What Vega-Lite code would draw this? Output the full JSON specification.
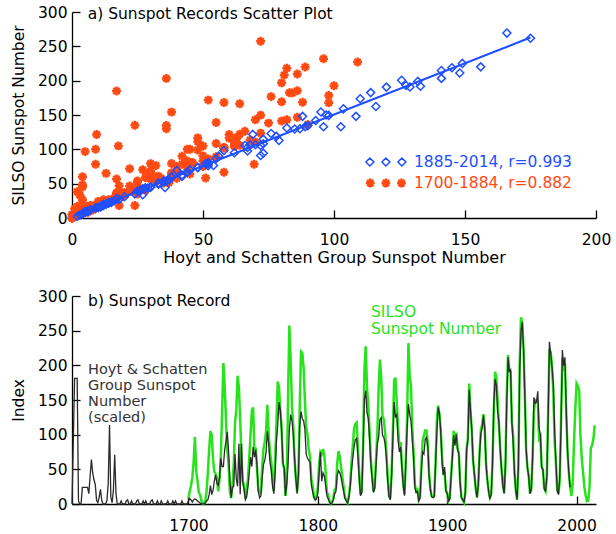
{
"$schema": "https://vega.github.io/schema/vega-lite/v6.json",
"padding": {"left": 11, "top": 5, "right": 4, "bottom": 4},
"bounds": "flush",
"spacing": 78,
"config": {
  "view": {"stroke": null},
  "font": "DejaVu Sans",
  "axis": {"domainColor": "black", "domainWidth": 1.3, "tickColor": "black", "tickWidth": 1.3, "labelFont": "DejaVu Sans", "labelFontSize": 15.5, "labelColor": "black", "titleFont": "DejaVu Sans", "titleFontSize": 15.5, "titleFontWeight": "normal", "titleColor": "black", "grid": false, "labelOverlap": false, "labelFlush": false, "ticks": true}
},
"datasets": {"ss": [
{"year":1610,"hs":0},{"year":1611,"hs":60},{"year":1612,"hs":120.7},{"year":1613,"hs":120.7},{"year":1614,"hs":120.7},{"year":1615,"hs":3},{"year":1616,"hs":0},{"year":1617,"hs":0},{"year":1618,"hs":16},{"year":1619,"hs":16},
{"year":1620,"hs":16},{"year":1621,"hs":16},{"year":1622,"hs":16},{"year":1623,"hs":10},{"year":1624,"hs":26.7},{"year":1625,"hs":42.7},{"year":1626,"hs":30},{"year":1627,"hs":23.3},{"year":1628,"hs":18.7},{"year":1629,"hs":3.3},
{"year":1630,"hs":1.3},{"year":1631,"hs":6.7},{"year":1632,"hs":14},{"year":1633,"hs":3.3},{"year":1634,"hs":0},{"year":1635,"hs":0},{"year":1636,"hs":0},{"year":1637,"hs":3.3},{"year":1638,"hs":20},{"year":1639,"hs":76},
{"year":1640,"hs":6.7},{"year":1641,"hs":1.3},{"year":1642,"hs":13.3},{"year":1643,"hs":47.3},{"year":1644,"hs":10},{"year":1645,"hs":0},{"year":1646,"hs":0},{"year":1647,"hs":0},{"year":1648,"hs":3},{"year":1649,"hs":0},
{"year":1650,"hs":0},{"year":1651,"hs":0},{"year":1652,"hs":3},{"year":1653,"hs":4},{"year":1654,"hs":0},{"year":1655,"hs":0},{"year":1656,"hs":3},{"year":1657,"hs":0},{"year":1658,"hs":0},{"year":1659,"hs":0},
{"year":1660,"hs":3},{"year":1661,"hs":4},{"year":1662,"hs":0},{"year":1663,"hs":0},{"year":1664,"hs":0},{"year":1665,"hs":3},{"year":1666,"hs":0},{"year":1667,"hs":3},{"year":1668,"hs":0},{"year":1669,"hs":0},
{"year":1670,"hs":0},{"year":1671,"hs":3},{"year":1672,"hs":4},{"year":1673,"hs":0},{"year":1674,"hs":0},{"year":1675,"hs":0},{"year":1676,"hs":3},{"year":1677,"hs":0},{"year":1678,"hs":0},{"year":1679,"hs":3},
{"year":1680,"hs":0},{"year":1681,"hs":0},{"year":1682,"hs":0},{"year":1683,"hs":0},{"year":1684,"hs":3},{"year":1685,"hs":0},{"year":1686,"hs":0},{"year":1687,"hs":0},{"year":1688,"hs":3},{"year":1689,"hs":0},
{"year":1690,"hs":3},{"year":1691,"hs":0},{"year":1692,"hs":0},{"year":1693,"hs":0},{"year":1694,"hs":0},{"year":1695,"hs":3},{"year":1696,"hs":0},{"year":1697,"hs":0},{"year":1698,"hs":0},{"year":1699,"hs":0},
{"year":1700,"silso":8.3,"hs":3},{"year":1701,"silso":18.3,"hs":5},{"year":1702,"silso":26.7,"hs":4},{"year":1703,"silso":38.3,"hs":2},{"year":1704,"silso":60.0,"hs":4},{"year":1705,"silso":96.7,"hs":5},{"year":1706,"silso":48.3,"hs":4},{"year":1707,"silso":33.3,"hs":3},{"year":1708,"silso":16.7,"hs":2},{"year":1709,"silso":13.3,"hs":1},
{"year":1710,"silso":5.0,"hs":0},{"year":1711,"silso":0.0,"hs":0},{"year":1712,"silso":0.0,"hs":0},{"year":1713,"silso":3.3,"hs":1},{"year":1714,"silso":18.3,"hs":3},{"year":1715,"silso":45.0,"hs":4},{"year":1716,"silso":78.3,"hs":9},{"year":1717,"silso":105.0,"hs":17.7},{"year":1718,"silso":100.0,"hs":9},{"year":1719,"silso":65.0,"hs":13},
{"year":1720,"silso":46.7,"hs":22},{"year":1721,"silso":43.3,"hs":28},{"year":1722,"silso":36.7,"hs":20},{"year":1723,"silso":18.3,"hs":18},{"year":1724,"silso":35.0,"hs":25},{"year":1725,"silso":66.7,"hs":44},{"year":1726,"silso":130.0,"hs":36},{"year":1727,"silso":203.3,"hs":36},{"year":1728,"silso":171.7,"hs":52},{"year":1729,"silso":121.7,"hs":60},
{"year":1730,"silso":78.3,"hs":69.5},{"year":1731,"silso":58.3,"hs":51},{"year":1732,"silso":18.3,"hs":24},{"year":1733,"silso":8.3,"hs":6},{"year":1734,"silso":26.7,"hs":16},{"year":1735,"silso":56.7,"hs":17},{"year":1736,"silso":116.7,"hs":48},{"year":1737,"silso":135.0,"hs":24},{"year":1738,"silso":185.0,"hs":17},{"year":1739,"silso":168.3,"hs":58},
{"year":1740,"silso":121.7,"hs":9.4},{"year":1741,"silso":66.7,"hs":58},{"year":1742,"silso":33.3,"hs":20},{"year":1743,"silso":26.7,"hs":14},{"year":1744,"silso":8.3,"hs":4},{"year":1745,"silso":18.3,"hs":7},{"year":1746,"silso":36.7,"hs":17},{"year":1747,"silso":66.7,"hs":30},{"year":1748,"silso":100.0,"hs":45},{"year":1749,"silso":134.8,"hs":36},
{"year":1750,"silso":139.0,"hs":55},{"year":1751,"silso":79.5,"hs":45},{"year":1752,"silso":79.7,"hs":52},{"year":1753,"silso":51.2,"hs":37},{"year":1754,"silso":20.3,"hs":12},{"year":1755,"silso":16.0,"hs":6},{"year":1756,"silso":17.0,"hs":8},{"year":1757,"silso":54.0,"hs":25},{"year":1758,"silso":79.3,"hs":38},{"year":1759,"silso":90.0,"hs":42},
{"year":1760,"silso":104.8,"hs":50},{"year":1761,"silso":143.2,"hs":70},{"year":1762,"silso":102.0,"hs":58},{"year":1763,"silso":75.2,"hs":40},{"year":1764,"silso":60.7,"hs":33},{"year":1765,"silso":34.8,"hs":17},{"year":1766,"silso":19.0,"hs":10},{"year":1767,"silso":63.0,"hs":30},{"year":1768,"silso":116.3,"hs":60},{"year":1769,"silso":176.8,"hs":76},
{"year":1770,"silso":168.0,"hs":98},{"year":1771,"silso":136.0,"hs":90},{"year":1772,"silso":110.8,"hs":70},{"year":1773,"silso":58.0,"hs":40},{"year":1774,"silso":51.0,"hs":35},{"year":1775,"silso":11.7,"hs":8},{"year":1776,"silso":33.0,"hs":20},{"year":1777,"silso":154.2,"hs":38},{"year":1778,"silso":257.3,"hs":72},{"year":1779,"silso":209.8,"hs":86},
{"year":1780,"silso":141.3,"hs":80},{"year":1781,"silso":113.5,"hs":68},{"year":1782,"silso":64.2,"hs":45},{"year":1783,"silso":38.0,"hs":25},{"year":1784,"silso":17.0,"hs":10},{"year":1785,"silso":40.2,"hs":28},{"year":1786,"silso":138.2,"hs":75},{"year":1787,"silso":220.0,"hs":89},{"year":1788,"silso":218.2,"hs":82},{"year":1789,"silso":196.8,"hs":80},
{"year":1790,"silso":149.8,"hs":72},{"year":1791,"silso":111.0,"hs":48},{"year":1792,"silso":100.0,"hs":44},{"year":1793,"silso":78.2,"hs":42},{"year":1794,"silso":68.3,"hs":40},{"year":1795,"silso":35.5,"hs":18},{"year":1796,"silso":26.7,"hs":12},{"year":1797,"silso":10.7,"hs":6},{"year":1798,"silso":6.8,"hs":4},{"year":1799,"silso":11.3,"hs":5},
{"year":1800,"silso":24.2,"hs":10},{"year":1801,"silso":56.7,"hs":30},{"year":1802,"silso":75.0,"hs":50},{"year":1803,"silso":71.8,"hs":22},{"year":1804,"silso":79.2,"hs":30},{"year":1805,"silso":70.3,"hs":27},{"year":1806,"silso":46.8,"hs":18},{"year":1807,"silso":16.8,"hs":8},{"year":1808,"silso":13.5,"hs":5},{"year":1809,"silso":4.2,"hs":2},
{"year":1810,"silso":0.0,"hs":0},{"year":1811,"silso":2.3,"hs":1},{"year":1812,"silso":8.3,"hs":4},{"year":1813,"silso":20.3,"hs":10},{"year":1814,"silso":23.2,"hs":12},{"year":1815,"silso":59.0,"hs":28},{"year":1816,"silso":76.3,"hs":32},{"year":1817,"silso":68.3,"hs":30},{"year":1818,"silso":52.9,"hs":25},{"year":1819,"silso":38.5,"hs":18},
{"year":1820,"silso":24.2,"hs":12},{"year":1821,"silso":9.2,"hs":5},{"year":1822,"silso":6.3,"hs":3},{"year":1823,"silso":2.2,"hs":1},{"year":1824,"silso":11.4,"hs":6},{"year":1825,"silso":28.2,"hs":16},{"year":1826,"silso":59.9,"hs":32},{"year":1827,"silso":83.0,"hs":44},{"year":1828,"silso":108.5,"hs":55},{"year":1829,"silso":115.2,"hs":62},
{"year":1830,"silso":117.4,"hs":63},{"year":1831,"silso":80.8,"hs":46},{"year":1832,"silso":44.3,"hs":24},{"year":1833,"silso":13.4,"hs":8},{"year":1834,"silso":19.5,"hs":11},{"year":1835,"silso":85.8,"hs":52},{"year":1836,"silso":192.7,"hs":100},{"year":1837,"silso":227.3,"hs":109},{"year":1838,"silso":168.7,"hs":88},{"year":1839,"silso":143.0,"hs":82},
{"year":1840,"silso":105.5,"hs":62},{"year":1841,"silso":63.3,"hs":38},{"year":1842,"silso":40.3,"hs":24},{"year":1843,"silso":18.1,"hs":11},{"year":1844,"silso":25.1,"hs":15},{"year":1845,"silso":65.8,"hs":38},{"year":1846,"silso":102.7,"hs":58},{"year":1847,"silso":166.3,"hs":64},{"year":1848,"silso":208.3,"hs":81},{"year":1849,"silso":182.5,"hs":83},
{"year":1850,"silso":126.3,"hs":66},{"year":1851,"silso":122.0,"hs":64},{"year":1852,"silso":102.7,"hs":58},{"year":1853,"silso":74.1,"hs":44},{"year":1854,"silso":39.0,"hs":22},{"year":1855,"silso":12.7,"hs":7},{"year":1856,"silso":8.2,"hs":4},{"year":1857,"silso":43.4,"hs":26},{"year":1858,"silso":104.4,"hs":62},{"year":1859,"silso":178.3,"hs":98},
{"year":1860,"silso":182.2,"hs":84},{"year":1861,"silso":146.6,"hs":86},{"year":1862,"silso":112.1,"hs":62},{"year":1863,"silso":83.5,"hs":50},{"year":1864,"silso":89.2,"hs":55},{"year":1865,"silso":57.8,"hs":34},{"year":1866,"silso":30.7,"hs":18},{"year":1867,"silso":13.9,"hs":8},{"year":1868,"silso":62.8,"hs":38},{"year":1869,"silso":123.6,"hs":72},
{"year":1870,"silso":232.0,"hs":96},{"year":1871,"silso":185.3,"hs":86},{"year":1872,"silso":169.2,"hs":80},{"year":1873,"silso":110.1,"hs":62},{"year":1874,"silso":74.5,"hs":44},{"year":1875,"silso":28.3,"hs":16},{"year":1876,"silso":18.9,"hs":11},{"year":1877,"silso":20.7,"hs":12},{"year":1878,"silso":5.7,"hs":3},{"year":1879,"silso":10.0,"hs":6},
{"year":1880,"silso":53.7,"hs":32},{"year":1881,"silso":90.5,"hs":50},{"year":1882,"silso":99.0,"hs":48},{"year":1883,"silso":106.1,"hs":62},{"year":1884,"silso":105.8,"hs":64},{"year":1885,"silso":86.3,"hs":55},{"year":1886,"silso":42.4,"hs":27},{"year":1887,"silso":21.8,"hs":14},{"year":1888,"silso":11.2,"hs":7},{"year":1889,"silso":10.4,"hs":6},
{"year":1890,"silso":11.8,"hs":7},{"year":1891,"silso":59.5,"hs":38},{"year":1892,"silso":121.7,"hs":69},{"year":1893,"silso":142.0,"hs":93},{"year":1894,"silso":130.0,"hs":87},{"year":1895,"silso":106.6,"hs":70},{"year":1896,"silso":69.4,"hs":40},{"year":1897,"silso":43.8,"hs":28},{"year":1898,"silso":44.4,"hs":35.5},{"year":1899,"silso":20.2,"hs":12},
{"year":1900,"silso":15.7,"hs":10},{"year":1901,"silso":4.6,"hs":3},{"year":1902,"silso":8.5,"hs":5},{"year":1903,"silso":40.8,"hs":26},{"year":1904,"silso":70.1,"hs":45},{"year":1905,"silso":105.5,"hs":66},{"year":1906,"silso":90.1,"hs":56},{"year":1907,"silso":102.8,"hs":67},{"year":1908,"silso":80.9,"hs":52},{"year":1909,"silso":73.2,"hs":48},
{"year":1910,"silso":30.9,"hs":20},{"year":1911,"silso":9.5,"hs":6},{"year":1912,"silso":6.0,"hs":4},{"year":1913,"silso":2.4,"hs":2},{"year":1914,"silso":16.1,"hs":11},{"year":1915,"silso":79.0,"hs":52},{"year":1916,"silso":95.0,"hs":62},{"year":1917,"silso":173.6,"hs":110},{"year":1918,"silso":134.6,"hs":90},{"year":1919,"silso":105.7,"hs":72},
{"year":1920,"silso":62.7,"hs":42},{"year":1921,"silso":43.5,"hs":29},{"year":1922,"silso":23.7,"hs":15},{"year":1923,"silso":9.7,"hs":6},{"year":1924,"silso":27.9,"hs":17},{"year":1925,"silso":74.0,"hs":48},{"year":1926,"silso":106.5,"hs":68},{"year":1927,"silso":114.7,"hs":73},{"year":1928,"silso":129.7,"hs":85},{"year":1929,"silso":108.2,"hs":73},
{"year":1930,"silso":59.4,"hs":38},{"year":1931,"silso":35.1,"hs":24},{"year":1932,"silso":18.6,"hs":12},{"year":1933,"silso":9.2,"hs":5},{"year":1934,"silso":14.6,"hs":9},{"year":1935,"silso":60.2,"hs":38},{"year":1936,"silso":132.8,"hs":96},{"year":1937,"silso":190.6,"hs":120},{"year":1938,"silso":182.6,"hs":114},{"year":1939,"silso":148.0,"hs":88},
{"year":1940,"silso":113.0,"hs":79},{"year":1941,"silso":79.2,"hs":51},{"year":1942,"silso":50.8,"hs":33},{"year":1943,"silso":27.1,"hs":18},{"year":1944,"silso":16.1,"hs":10},{"year":1945,"silso":55.3,"hs":37},{"year":1946,"silso":154.3,"hs":95},{"year":1947,"silso":214.7,"hs":141},{"year":1948,"silso":193.0,"hs":127.5},{"year":1949,"silso":190.7,"hs":129},
{"year":1950,"silso":118.9,"hs":78},{"year":1951,"silso":98.3,"hs":58},{"year":1952,"silso":45.0,"hs":30},{"year":1953,"silso":20.1,"hs":13},{"year":1954,"silso":6.6,"hs":4},{"year":1955,"silso":54.2,"hs":36},{"year":1956,"silso":200.7,"hs":125.8},{"year":1957,"silso":269.3,"hs":166},{"year":1958,"silso":261.7,"hs":175},{"year":1959,"silso":225.1,"hs":149},
{"year":1960,"silso":159.0,"hs":103.6},{"year":1961,"silso":76.4,"hs":54},{"year":1962,"silso":53.4,"hs":35},{"year":1963,"silso":39.9,"hs":26},{"year":1964,"silso":15.0,"hs":10},{"year":1965,"silso":22.0,"hs":14},{"year":1966,"silso":66.8,"hs":44},{"year":1967,"silso":132.9,"hs":102.6},{"year":1968,"silso":150.0,"hs":97},{"year":1969,"silso":149.4,"hs":98},
{"year":1970,"silso":148.0,"hs":108.4},{"year":1971,"silso":94.4,"hs":73},{"year":1972,"silso":97.6,"hs":67},{"year":1973,"silso":54.1,"hs":35},{"year":1974,"silso":49.2,"hs":33},{"year":1975,"silso":22.5,"hs":15},{"year":1976,"silso":18.4,"hs":12},{"year":1977,"silso":39.3,"hs":25},{"year":1978,"silso":131.0,"hs":82},{"year":1979,"silso":220.1,"hs":156},
{"year":1980,"silso":218.9,"hs":145},{"year":1981,"silso":198.9,"hs":132},{"year":1982,"silso":162.4,"hs":116},{"year":1983,"silso":91.0,"hs":72},{"year":1984,"silso":60.5,"hs":42},{"year":1985,"silso":20.6,"hs":13},{"year":1986,"silso":14.8,"hs":9},{"year":1987,"silso":33.9,"hs":27},{"year":1988,"silso":123.0,"hs":76},{"year":1989,"silso":211.1,"hs":148},
{"year":1990,"silso":191.8,"hs":133},{"year":1991,"silso":203.3,"hs":141},{"year":1992,"silso":133.0,"hs":89},{"year":1993,"silso":76.1,"hs":52},{"year":1994,"silso":44.9,"hs":30},{"year":1995,"silso":25.1,"hs":16},{"year":1996,"silso":11.6},{"year":1997,"silso":28.9},{"year":1998,"silso":88.3},{"year":1999,"silso":136.3},
{"year":2000,"silso":173.9},{"year":2001,"silso":170.4},{"year":2002,"silso":163.6},{"year":2003,"silso":99.3},{"year":2004,"silso":65.3},{"year":2005,"silso":45.8},{"year":2006,"silso":24.7},{"year":2007,"silso":12.6},{"year":2008,"silso":4.2},{"year":2009,"silso":4.8},
{"year":2010,"silso":24.9},{"year":2011,"silso":80.8},{"year":2012,"silso":84.5},{"year":2013,"silso":94.0},{"year":2014,"silso":113.3}
]},
"vconcat": [
{
  "width": 524, "height": 206,
  "layer": [
    {
      "data": {"name": "ss"},
      "transform": [{"filter": "datum.year <= 1884 && isValid(datum.hs) && isValid(datum.silso)"}],
      "mark": {"type": "point", "shape": "M-1,0H1M0,-1V1M-0.7,-0.7L0.7,0.7M-0.7,0.7L0.7,-0.7", "filled": false, "strokeWidth": 2.5, "size": 80, "opacity": 1, "color": "#ff4a12"},
      "encoding": {
        "x": {"field": "hs", "type": "quantitative", "scale": {"domain": [0, 200], "nice": false, "zero": false},
              "axis": {"title": "Hoyt and Schatten Group Sunspot Number", "titleFontSize": 16, "values": [0,50,100,150,200], "tickCount": 5,
                       "tickSize": -8, "labelPadding": 22, "titlePadding": 2}},
        "y": {"field": "silso", "type": "quantitative", "scale": {"domain": [0, 300], "nice": false, "zero": false},
              "axis": {"title": "SILSO Sunspot Number", "values": [0,50,100,150,200,250,300], "tickCount": 7,
                       "tickSize": -8, "labelPadding": 13, "titlePadding": 11}}
      }
    },
    {
      "data": {"name": "ss"},
      "transform": [{"filter": "datum.year >= 1885 && isValid(datum.hs) && isValid(datum.silso)"}],
      "mark": {"type": "point", "shape": "diamond", "filled": false, "strokeWidth": 1.5, "size": 64, "opacity": 1, "color": "#1f4fff"},
      "encoding": {
        "x": {"field": "hs", "type": "quantitative"},
        "y": {"field": "silso", "type": "quantitative"}
      }
    },
    {
      "data": {"name": "ss"},
      "transform": [{"filter": "datum.year >= 1885 && isValid(datum.hs) && isValid(datum.silso)"}, {"regression": "silso", "on": "hs"}],
      "mark": {"type": "line", "color": "#1f4fff", "strokeWidth": 2},
      "encoding": {
        "x": {"field": "hs", "type": "quantitative"},
        "y": {"field": "silso", "type": "quantitative"}
      }
    },
    {
      "data": {"values": [{}]},
      "mark": {"type": "text", "align": "left", "baseline": "middle", "font": "DejaVu Sans", "fontSize": 15.5, "color": "black"},
      "encoding": {"x": {"datum": 6}, "y": {"datum": 297}, "text": {"value": "a) Sunspot Records Scatter Plot"}}
    },
    {
      "data": {"values": [{}]},
      "mark": {"type": "point", "shape": "M-1,0L-0.8,-0.2L-0.6,0L-0.8,0.2ZM-0.2,0L0,-0.2L0.2,0L0,0.2ZM0.6,0L0.8,-0.2L1,0L0.8,0.2Z", "size": 1600, "filled": false, "strokeWidth": 1.5, "opacity": 1, "color": "#1f4fff"},
      "encoding": {"x": {"datum": 119.8}, "y": {"datum": 81.5}}
    },
    {
      "data": {"values": [{}]},
      "mark": {"type": "point", "shape": "M-1,0H-0.56M-0.78,-0.22V0.22M-0.935,-0.155L-0.625,0.155M-0.935,0.155L-0.625,-0.155M-0.22,0H0.22M0,-0.22V0.22M-0.155,-0.155L0.155,0.155M-0.155,0.155L0.155,-0.155M0.56,0H1M0.78,-0.22V0.22M0.625,-0.155L0.935,0.155M0.625,0.155L0.935,-0.155", "size": 1600, "filled": false, "strokeWidth": 2.5, "opacity": 1, "color": "#ff4a12"},
      "encoding": {"x": {"datum": 119.8}, "y": {"datum": 51}}
    },
    {
      "data": {"values": [{}]},
      "mark": {"type": "text", "align": "left", "baseline": "middle", "font": "DejaVu Sans", "fontSize": 15.5, "color": "#1f4fff"},
      "encoding": {"x": {"datum": 130.5}, "y": {"datum": 81.5}, "text": {"value": "1885-2014, r=0.993"}}
    },
    {
      "data": {"values": [{}]},
      "mark": {"type": "text", "align": "left", "baseline": "middle", "font": "DejaVu Sans", "fontSize": 15.5, "color": "#ff4a12"},
      "encoding": {"x": {"datum": 130.5}, "y": {"datum": 51}, "text": {"value": "1700-1884, r=0.882"}}
    }
  ]
},
{
  "width": 524, "height": 208,
  "layer": [
    {
      "layer": [
        {
          "data": {"name": "ss"},
          "transform": [{"filter": "isValid(datum.silso)"}],
          "mark": {"type": "line", "color": "#27e31b", "strokeWidth": 2.5},
          "encoding": {
            "x": {"field": "year", "type": "quantitative", "scale": {"domain": [1610, 2015], "nice": false, "zero": false},
                  "axis": {"title": null, "format": "d", "values": [1700,1800,1900,2000], "tickCount": 4, "tickSize": -8, "labelPadding": 22}},
            "y": {"field": "silso", "type": "quantitative", "scale": {"domain": [0, 300], "nice": false, "zero": false},
                  "axis": {"title": "Index", "values": [0,50,100,150,200,250,300], "tickCount": 7, "tickSize": -8, "labelPadding": 13, "titlePadding": 11}}
          }
        },
        {
          "data": {"values": [{}]},
          "mark": {"type": "text", "align": "left", "baseline": "middle", "font": "DejaVu Sans", "fontSize": 15.5, "color": "black"},
          "encoding": {"x": {"datum": 1622.4}, "y": {"datum": 293.5}, "text": {"value": "b) Sunspot Record"}}
        },
        {
          "data": {"values": [{}]},
          "mark": {"type": "text", "align": "left", "baseline": "alphabetic", "font": "DejaVu Sans", "fontSize": 14.5, "lineHeight": 16, "color": "#333333"},
          "encoding": {"x": {"datum": 1622.4}, "y": {"datum": 187.5}, "text": {"value": ["Hoyt & Schatten", "Group Sunspot", "Number", "(scaled)"]}}
        },
        {
          "data": {"values": [{}]},
          "mark": {"type": "text", "align": "left", "baseline": "alphabetic", "font": "DejaVu Sans", "fontSize": 15.5, "lineHeight": 17, "color": "#27e31b"},
          "encoding": {"x": {"datum": 1841.1}, "y": {"datum": 269.7}, "text": {"value": ["SILSO", "Sunspot Number"]}}
        }
      ]
    },
    {
      "data": {"name": "ss"},
      "transform": [{"filter": "isValid(datum.hs)"}],
      "mark": {"type": "line", "color": "#2a2a2a", "strokeWidth": 1.3},
      "encoding": {
        "x": {"field": "year", "type": "quantitative"},
        "y": {"field": "hs", "type": "quantitative", "scale": {"domain": [0, 200], "nice": false, "zero": false}, "axis": null}
      }
    }
  ],
  "resolve": {"scale": {"y": "independent"}}
}
]
}
